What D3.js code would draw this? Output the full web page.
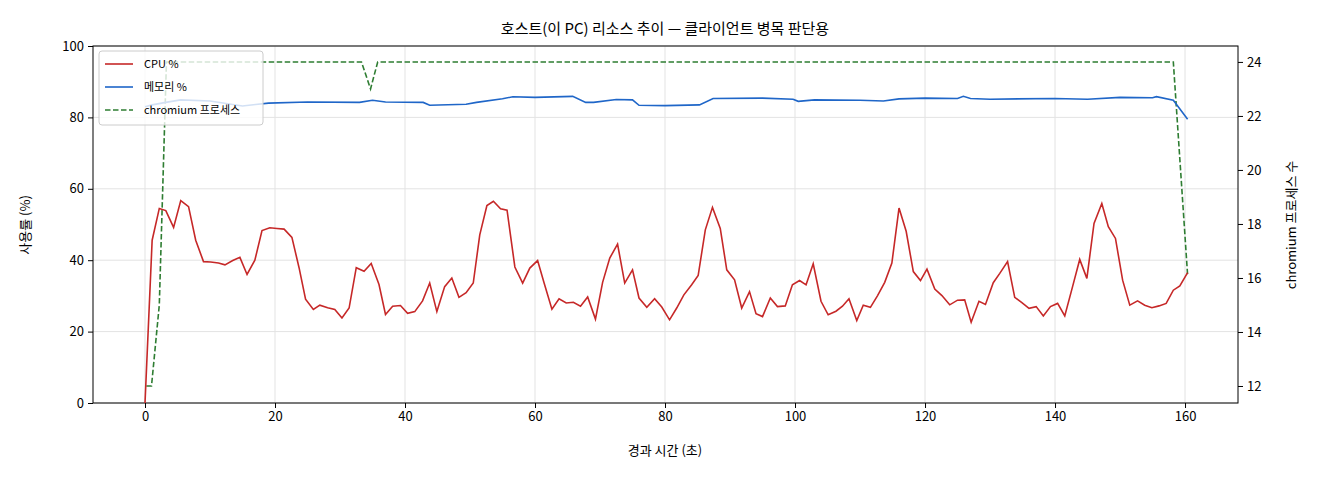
<!DOCTYPE html>
<html><head><meta charset="utf-8">
<script src="https://cdn.jsdelivr.net/npm/d3@7"></script>
<style>body{margin:0;background:#fff}text{font-family:"Noto Sans CJK KR","Noto Sans",sans-serif}</style>
</head><body><svg id="c" width="1320" height="480"></svg>
<script>
const cpuTime=[0,1.1,2.2,3.2,4.4,5.5,6.7,7.8,9.0,10.1,11.3,12.3,13.5,14.6,15.7,16.9,18.0,19.2,20.3,21.4,22.6,23.7,24.7,25.9,26.9,28.1,29.2,30.3,31.4,32.5,33.7,34.8,36,37,38.1,39.3,40.4,41.5,42.7,43.8,44.9,46.1,47.2,48.3,49.4,50.5,51.5,52.6,53.6,54.7,55.7,56.9,58.1,59.2,60.4,61.4,62.6,63.7,64.8,65.9,67.0,68.1,69.3,70.4,71.5,72.7,73.8,75.0,76.0,77.2,78.4,79.5,80.7,81.8,82.9,84.1,85.1,86.2,87.3,88.5,89.5,90.7,91.8,93.0,94.0,95.0,96.2,97.3,98.5,99.6,100.7,101.7,102.8,104.0,105.1,106.3,107.3,108.3,109.5,110.5,111.6,112.7,113.8,114.9,116.0,117.1,118.2,119.3,120.3,121.5,122.6,123.8,125.0,126.1,127.1,128.3,129.3,130.5,131.5,132.7,133.8,134.9,136.0,137.1,138.2,139.3,140.4,141.5,142.7,143.8,144.9,146.0,147.2,148.2,149.3,150.4,151.5,152.7,153.8,154.9,156.0,157.1,158.2,159.2,160.4];
const cpuVal=[0,45.6,54.5,53.9,49.2,56.7,55,45.6,39.6,39.5,39.2,38.7,39.9,40.8,36,40,48.3,49.1,48.9,48.7,46.4,37.9,29.1,26.2,27.4,26.7,26.2,23.8,26.6,37.9,36.9,39.1,33.2,24.8,27.1,27.3,25.1,25.6,28.6,33.6,25.6,32.6,35,29.6,30.9,33.6,47.1,55.3,56.5,54.4,54,38.1,33.6,37.8,39.9,33.6,26.3,29.2,28,28.2,27.1,29.7,23.5,33.8,40.6,44.5,33.6,37.3,29.4,26.8,29.2,26.9,23.3,26.6,30.3,33.1,35.7,48.5,54.8,48.9,37.3,34.5,26.6,31.2,25,24.2,29.4,27,27.2,33.1,34.3,33.1,39,28.5,24.7,25.7,27.1,29.2,23.1,27.4,26.8,30.1,33.8,39.2,54.6,48.1,36.8,34.3,37.5,31.9,30.1,27.5,28.8,28.9,22.6,28.5,27.6,33.7,36.3,39.6,29.6,28.1,26.5,27,24.4,27,27.9,24.4,32.6,40.2,34.9,50.3,55.9,49.4,46.1,34.4,27.4,28.6,27.4,26.7,27.2,27.9,31.6,32.8,36.5];
const memTime=[0,1.1,3.2,5.5,10,15,17,19,25,33,35,37,42.8,43.8,49.4,51,55,56.6,60,65.8,67.8,69,72.5,75,76,80,85.3,87.4,95,99.7,100.5,103,110,113.6,116,120,125,125.9,127,130,140,145,150,155,155.6,158.2,160.4];
const memVal=[83,83.5,84.2,84.9,84.6,83.2,83.6,84,84.3,84.2,84.8,84.3,84.2,83.4,83.7,84.2,85.2,85.8,85.6,85.9,84.2,84.2,85,84.9,83.4,83.3,83.5,85.3,85.4,85.1,84.5,84.9,84.8,84.6,85.2,85.4,85.3,85.9,85.3,85.1,85.3,85.1,85.6,85.5,85.8,84.8,79.5];
const procTime=[0.2,1,2.2,3.3,33.3,34.7,35.8,158.2,160.4];
const procVal=[12,12,15,24,24,23,24,24,16.1];
const xTicks=[0,20,40,60,80,100,120,140,160];
const yTicks=[0,20,40,60,80,100];
const y2Ticks=[12,14,16,18,20,22,24];

const svg=d3.select("#c");
const L=93,R=1238,T=46,B=403;
const x=d3.scaleLinear().domain([-8,168.15]).range([L,R]);
const y=d3.scaleLinear().domain([0,100]).range([B,T]);
const y2=d3.scaleLinear().domain([11.37,24.59]).range([B,T]);
const g=svg.append("g");
g.selectAll(".gx").data(xTicks).join("line").attr("x1",d=>x(d)).attr("x2",d=>x(d)).attr("y1",T).attr("y2",B).attr("stroke","#e3e3e3");
g.selectAll(".gy").data(yTicks).join("line").attr("y1",d=>y(d)).attr("y2",d=>y(d)).attr("x1",L).attr("x2",R).attr("stroke","#e3e3e3");
const fmt=a=>a.style("font-size","13px").call(s=>s.select(".domain").remove()).call(s=>s.selectAll("line").attr("stroke","#000"));
svg.append("g").attr("transform",`translate(0,${B})`).call(d3.axisBottom(x).tickValues(xTicks).tickSize(5).tickPadding(4)).call(fmt);
svg.append("g").attr("transform",`translate(${L},0)`).call(d3.axisLeft(y).tickValues(yTicks).tickSize(5).tickPadding(4)).call(fmt);
svg.append("g").attr("transform",`translate(${R},0)`).call(d3.axisRight(y2).tickValues(y2Ticks).tickSize(5).tickPadding(4)).call(fmt);
svg.selectAll(".tick text").attr("fill","#000");
svg.append("rect").attr("x",L).attr("y",T).attr("width",R-L).attr("height",B-T).attr("fill","none").attr("stroke","#000");
const line=(ts,vs,sc)=>d3.line().x((d,i)=>x(ts[i])).y(d=>sc(d))(vs);
svg.append("path").attr("d",line(procTime,procVal,y2)).attr("fill","none").attr("stroke","#2e7d32").attr("stroke-width",1.6).attr("stroke-dasharray","5.5,2.5");
svg.append("path").attr("d",line(memTime,memVal,y)).attr("fill","none").attr("stroke","#1f66c8").attr("stroke-width",1.6);
svg.append("path").attr("d",line(cpuTime,cpuVal,y)).attr("fill","none").attr("stroke","#c62828").attr("stroke-width",1.6);
const lg=svg.append("g").attr("transform","translate(99,51)");
lg.append("rect").attr("width",164).attr("height",74).attr("rx",3).attr("fill","rgba(255,255,255,0.8)").attr("stroke","#ccc");
const items=[["CPU %","#c62828",null],["메모리 %","#1f66c8",null],["chromium 프로세스","#2e7d32","5.5,2.5"]];
items.forEach((it,i)=>{const yy=13+i*23;
 lg.append("line").attr("x1",6).attr("x2",34).attr("y1",yy).attr("y2",yy).attr("stroke",it[1]).attr("stroke-width",1.6).attr("stroke-dasharray",it[2]);
 lg.append("text").attr("x",45).attr("y",yy+4).style("font-size","11px").text(it[0]);});
svg.append("text").attr("x",665).attr("y",34).attr("text-anchor","middle").style("font-size","15px").text("호스트(이 PC) 리소스 추이 — 클라이언트 병목 판단용");
svg.append("text").attr("x",665).attr("y",455).attr("text-anchor","middle").style("font-size","13px").text("경과 시간 (초)");
svg.append("text").attr("transform","translate(30,225) rotate(-90)").attr("text-anchor","middle").style("font-size","13px").text("사용률 (%)");
svg.append("text").attr("transform","translate(1296,225) rotate(-90)").attr("text-anchor","middle").style("font-size","13px").text("chromium 프로세스 수");
</script></body></html>
